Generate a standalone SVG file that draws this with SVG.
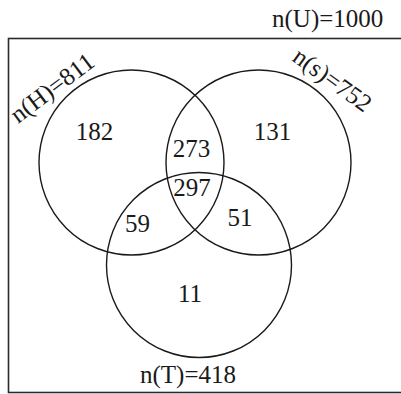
<svg xmlns="http://www.w3.org/2000/svg" width="401" height="394" viewBox="0 0 401 394">
<style>
.c{fill:none;stroke:#1a1a1a;stroke-width:1.4}
.b{fill:none;stroke:#2a2a2a;stroke-width:1.6}
text{font-family:"Liberation Serif","Times New Roman",serif;font-size:25px;fill:#1a1a1a}
.m{text-anchor:middle}
</style>
<rect fill="#fff" x="0" y="0" width="401" height="394"/>
<g id="universe">
<rect class="b" x="8.5" y="38.5" width="400" height="354"/>
<text x="272" y="27">n(U)=1000</text>
</g>
<g id="connectors"></g>
<g id="H">
<circle class="c" cx="131.5" cy="162.5" r="92.5"/>
<text transform="translate(18,124) rotate(-37)">n(H)=811</text>
</g>
<g id="S">
<circle class="c" cx="258.5" cy="162.5" r="92.5"/>
<text transform="translate(291,60) rotate(36)">n(s)=752</text>
</g>
<g id="T">
<circle class="c" cx="199" cy="265" r="92.5"/>
<text class="m" x="188" y="383">n(T)=418</text>
</g>
<g id="regions">
<text class="m" x="94.5" y="140">182</text>
<text class="m" x="191.5" y="157">273</text>
<text class="m" x="272.5" y="140">131</text>
<text class="m" x="192" y="196">297</text>
<text class="m" x="137.5" y="232">59</text>
<text class="m" x="240" y="226">51</text>
<text class="m" x="190" y="302">11</text>
</g>
</svg>
